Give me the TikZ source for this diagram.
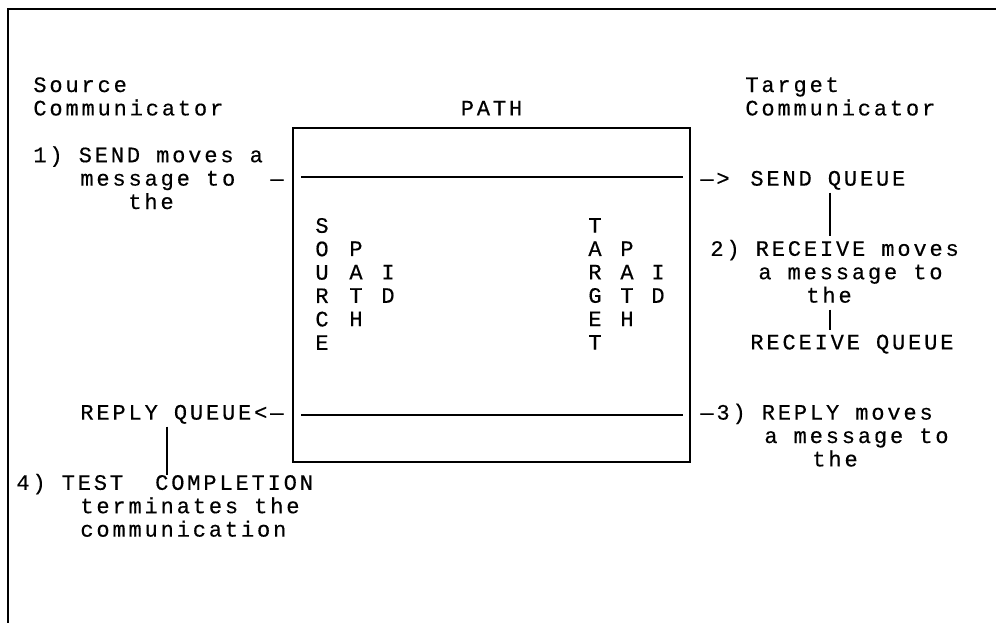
\documentclass[tikz,border=0pt]{standalone}
\usepackage{fontspec}
\newfontfamily\prtfont[LetterSpace=13,FakeBold=0.4]{Liberation Mono}
\usetikzlibrary{calc}

\begin{document}
% x in pixels, y in printer lines
\begin{tikzpicture}[x=0.5pt,y=-11.7pt,
  txt/.style={anchor=base west,inner sep=0pt,font=\prtfont\fontsize{11}{11.7}\selectfont},
  vert/.style={anchor=north,inner sep=0pt,align=center,font=\prtfont\fontsize{11}{11.7}\selectfont},
  frame/.style={line width=1.1pt},
  pathbox/.style={draw,line width=0.8pt,minimum width=198.5pt,minimum height=167pt,inner sep=0pt},
  lane/.style={line width=0.6pt},
  tie/.style={line width=0.7pt}]

\useasboundingbox (0,-3.932) rectangle (996,22.692);
\draw[frame] (996,-3.547) -- (8,-3.547) -- (8,22.692);

% source communicator
\node[txt] (src)    at (33,0)  {Source};
\node[txt] (srcc)   at (33,1)  {Communicator};
\node[txt] (send1)  at (33,3)  {1) SEND moves a};
\node[txt] (send2)  at (80,4)  {message to};
\node[txt] (send3)  at (128,5) {the};
\node[txt] (dashl)  at (270,4) {—};
\node[txt] (replyq) at (80,14) {REPLY QUEUE<—};
\node[txt] (test1)  at (16,17) {4) TEST\ \ COMPLETION};
\node[txt] (test2)  at (80,18) {terminates the};
\node[txt] (test3)  at (80,19) {communication};

% the path
\node[pathbox] (box) at (491.5,8.675) {};
\node[txt,anchor=base] (pathl) at (491.5,1) {PATH};
\node[vert] (srcid) at (322,5.37) {S\\O\\U\\R\\C\\E};
\node[vert] (spath) at (356,6.37) {P\\A\\T\\H};
\node[vert] (sid)   at (388,7.37) {I\\D};
\node[vert] (tgtid) at (595,5.37) {T\\A\\R\\G\\E\\T};
\node[vert] (tpath) at (627,6.37) {P\\A\\T\\H};
\node[vert] (tid)   at (658,7.37) {I\\D};

% target communicator
\node[txt] (tgt)   at (745,0)  {Target};
\node[txt] (tgtc)  at (745,1)  {Communicator};
\node[txt] (arr)   at (700,4)  {—>};
\node[txt] (sendq) at (750,4)  {SEND QUEUE};
\node[txt] (recv1) at (710,7)  {2) RECEIVE moves};
\node[txt] (recv2) at (758,8)  {a message to};
\node[txt] (recv3) at (806,9)  {the};
\node[txt] (recvq) at (750,11) {RECEIVE QUEUE};
\node[txt] (rep1)  at (700,14) {—3) REPLY moves};
\node[txt] (rep2)  at (764,15) {a message to};
\node[txt] (rep3)  at (812,16) {the};

\coordinate (upper) at (0,3.63);
\coordinate (lower) at (0,13.8);
\draw[lane] ($(box.west |- upper)+(9,0)$) -- ($(box.east |- upper)+(-8,0)$);
\draw[lane] ($(box.west |- lower)+(9,0)$) -- ($(box.east |- lower)+(-8,0)$);

\coordinate (qr) at (830,0);
\coordinate (ql) at (167,0);
\draw[tie] ($(sendq.base -| qr)+(0,0.3)$) -- ($(recv1.base -| qr)+(0,-0.83)$);
\draw[tie] ($(recv3.base -| qr)+(0,0.3)$) -- ($(recvq.base -| qr)+(0,-0.83)$);
\draw[tie] ($(replyq.base -| ql)+(0,0.3)$) -- ($(test1.base -| ql)+(0,-0.62)$);
\end{tikzpicture}
\end{document}
